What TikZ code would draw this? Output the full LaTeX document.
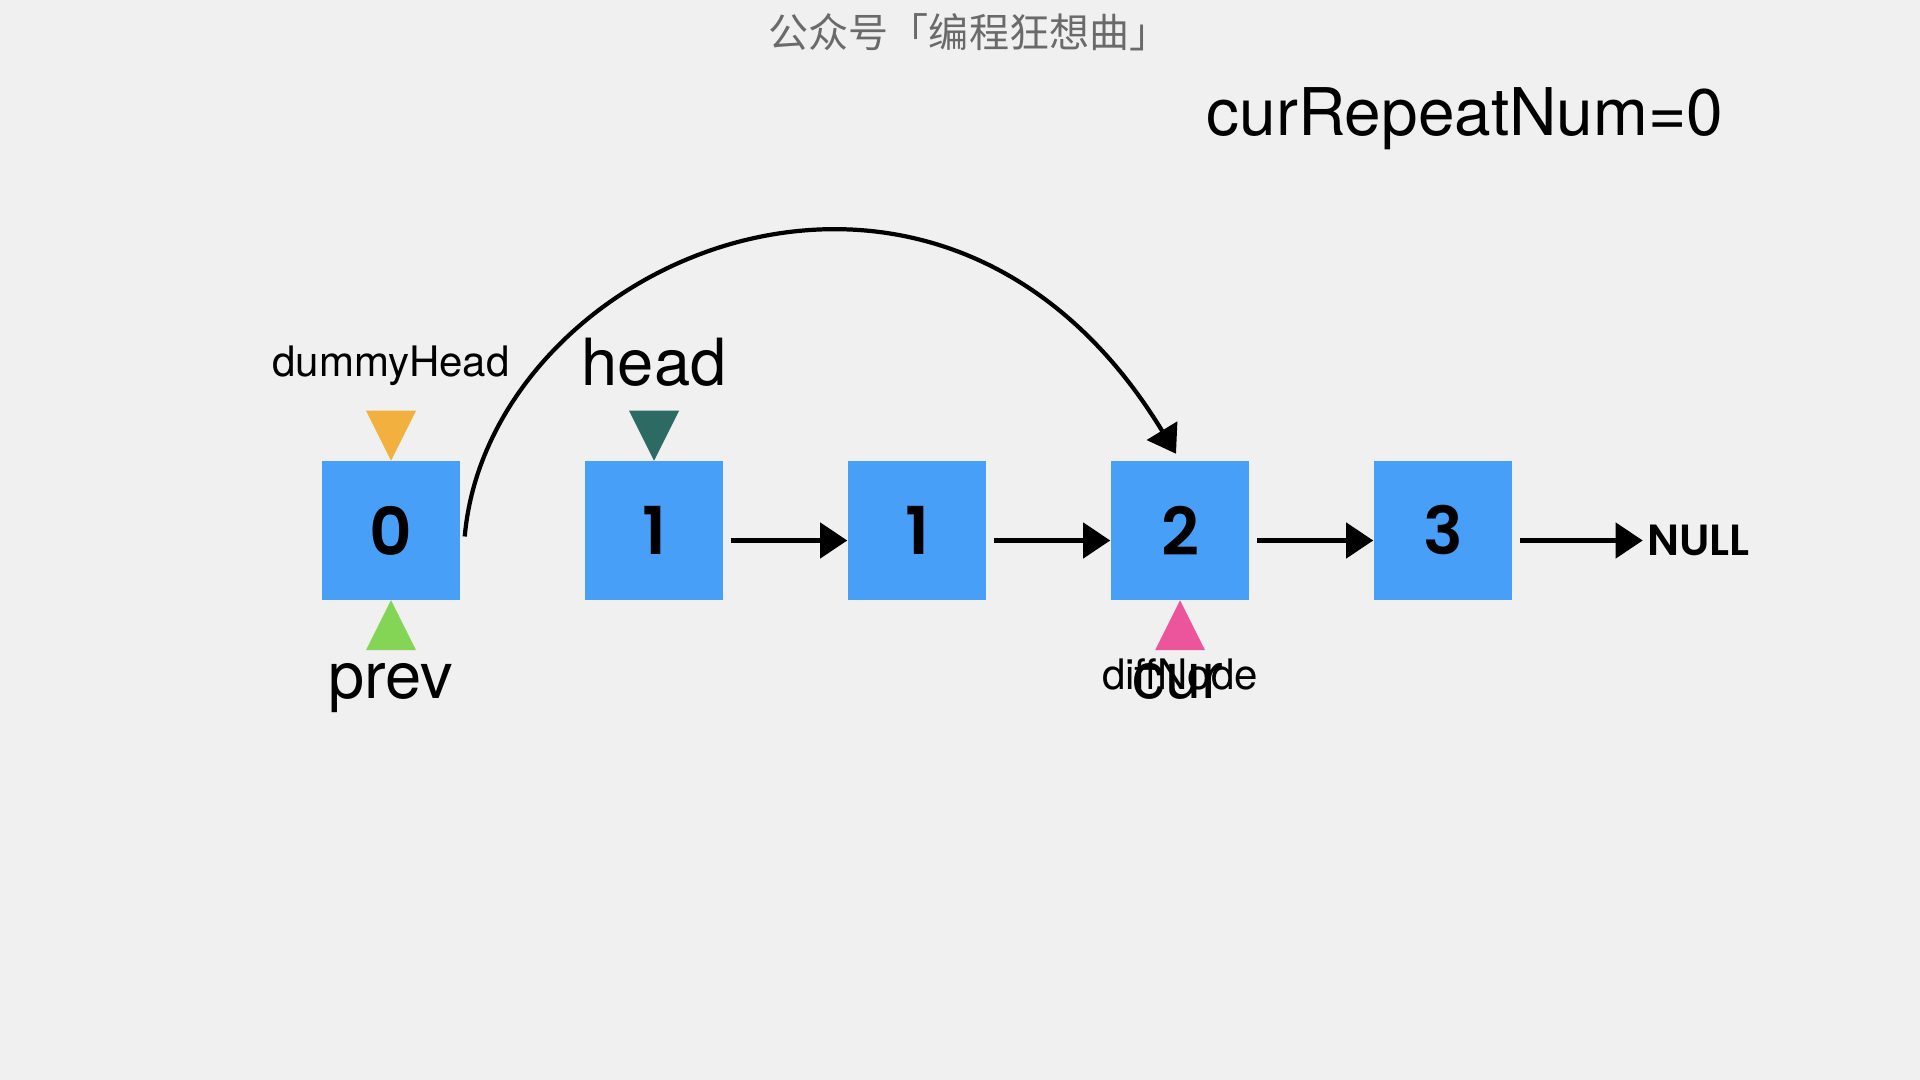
\documentclass[tikz,border=0pt]{standalone}
\usepackage{fontspec}
\setmainfont{TeX Gyre Heros}
\newfontfamily\numfont{Poppins}[BoldFont={* SemiBold}]
\newfontfamily\cjkfont{Noto Sans CJK SC}
\usetikzlibrary{arrows.meta}
\definecolor{bgcol}{HTML}{F0F0F0}
\definecolor{boxcol}{HTML}{479FF8}
\definecolor{dummycol}{HTML}{F2B13E}
\definecolor{headcol}{HTML}{2D6A64}
\definecolor{prevcol}{HTML}{84D455}
\definecolor{curcol}{HTML}{EC559C}
\definecolor{titlecol}{HTML}{6A6A6A}
\tikzset{
  listnode/.style={fill=boxcol, minimum size=1.38cm, inner sep=0pt, font=\numfont\bfseries\fontsize{18.8}{20}\selectfont},
  link/.style={line width=1.2pt, -{Triangle[length=0.27cm,width=0.35cm]}},
  bigtext/.style={inner sep=0pt, anchor=base, font=\fontsize{18.5}{20}\selectfont},
  smalltext/.style={inner sep=0pt, anchor=base, font=\fontsize{11.95}{13}\selectfont},
}
\begin{document}
\begin{tikzpicture}[x=0.01cm,y=-0.01cm]
      \fill[bgcol] (0,0) rectangle (1920,1080);
      \useasboundingbox (0,0) rectangle (1920,1080);
      \node[font=\cjkfont\fontsize{11.4}{13}\selectfont, text=titlecol] (title) at (969,32) {公众号「编程狂想曲」};
      \node[bigtext, anchor=base west, font=\fontsize{18.7}{20}\selectfont] (repeat) at (1206,136) {curRepeatNum=0};
      % the list
      \foreach \v [count=\i from 0] in {0,1,1,2,3}
        \node[listnode] (n\i) at (391+263*\i,530.5) {\v};
      \node[anchor=west, inner sep=0.04cm, font=\numfont\bfseries\fontsize{12.4}{14}\selectfont] (null) at ([shift={(130,10)}]n4.east) {NULL};
      \foreach \i/\j in {1/2,2/3,3/4}
        \draw[link] ([shift={(7,10)}]n\i.east) -- ([shift={(0,10)}]n\j.west);
      \draw[link] ([shift={(7,10)}]n4.east) -- (null.west);
      \draw[link] ([shift={(4,6)}]n0.east) .. controls +(24,-276) and +(-238,-392) .. ([shift={(-4,-7)}]n3.north);
      % pointers
      \fill[dummycol] (n0.north) -- ++(-25,-50) -- ++(50,0) -- cycle;
      \fill[headcol] (n1.north) -- ++(-25,-50) -- ++(50,0) -- cycle;
      \fill[prevcol] (n0.south) -- ++(-25,50) -- ++(50,0) -- cycle;
      \fill[curcol] (n3.south) -- ++(-25,50) -- ++(50,0) -- cycle;
      \node[smalltext] (dummyHead) at ([shift={(0,-84)}]n0.north) {dummyHead};
      \node[bigtext] (head) at ([shift={(0,-75)}]n1.north) {head};
      \node[bigtext] (prev) at ([shift={(0,98)}]n0.south) {prev};
      \node[smalltext] (diffNode) at ([shift={(0,89)}]n3.south) {diffNode};
      \node[bigtext] (cur) at ([shift={(-2,98)}]n3.south) {cur};
    \end{tikzpicture}
\end{document}
